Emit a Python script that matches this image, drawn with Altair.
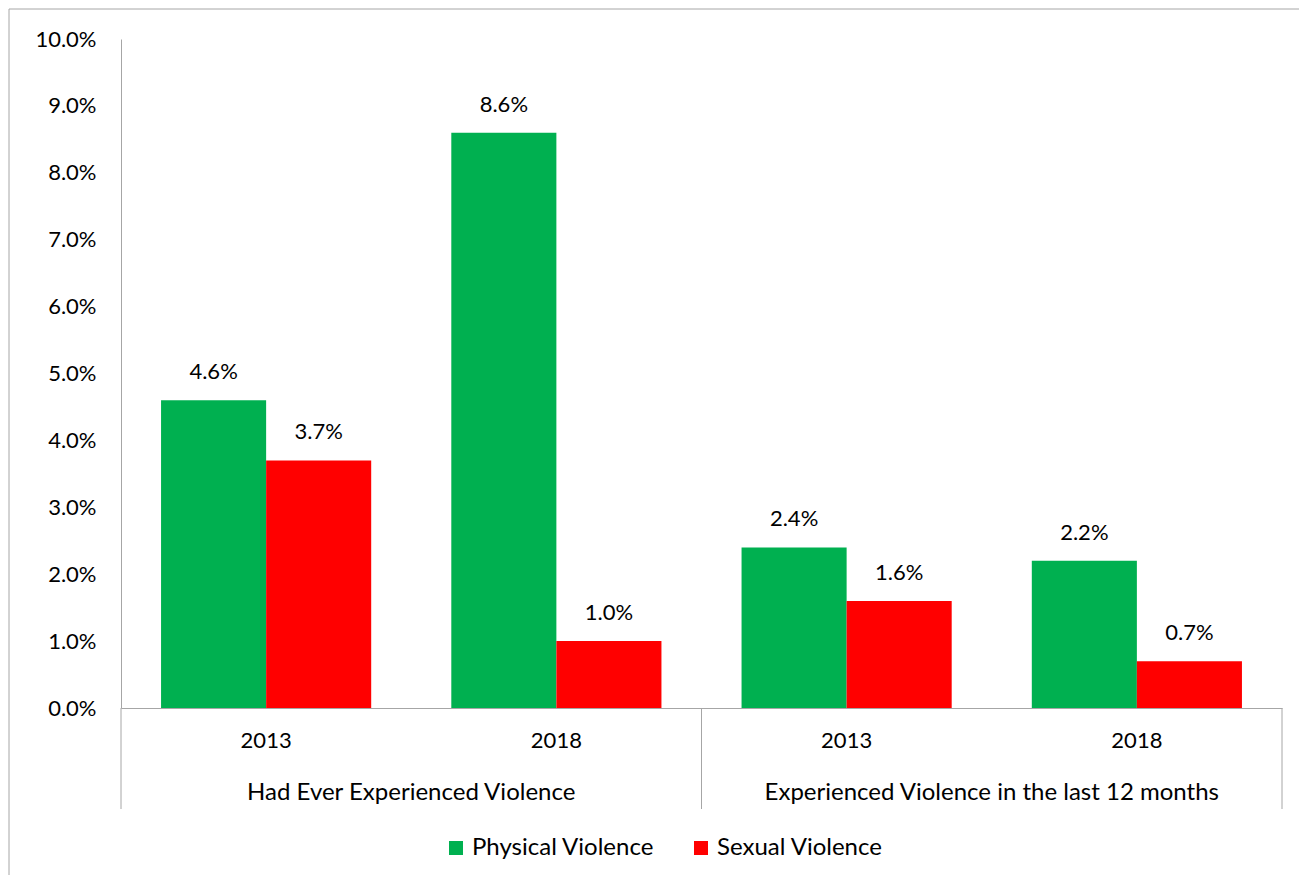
import altair as alt
import pandas as pd

# ---- data ----
groups = ["Had Ever Experienced Violence", "Had Ever Experienced Violence",
          "Experienced Violence in the last 12 months", "Experienced Violence in the last 12 months"]
years = ["2013", "2018", "2013", "2018"]
physical = [4.6, 8.6, 2.4, 2.2]
sexual = [3.7, 1.0, 1.6, 0.7]
series = ["Physical Violence", "Sexual Violence"]
colors = ["#00B050", "#FF0000"]
y_ticks = [0.0, 0.01, 0.02, 0.03, 0.04, 0.05, 0.06, 0.07, 0.08, 0.09, 0.10]

keys = [g + "|" + y for g, y in zip(groups, years)]
rows = []
for k, g, y, p, s in zip(keys, groups, years, physical, sexual):
    rows.append(dict(key=k, group=g, year=y, series=series[0], value=p / 100))
    rows.append(dict(key=k, group=g, year=y, series=series[1], value=s / 100))
df = pd.DataFrame(rows)

grp_df = pd.DataFrame({"key": [keys[0], keys[2]], "group": [groups[0], groups[2]]})
left_sep = pd.DataFrame({"key": [keys[0], keys[2]]})
right_sep = pd.DataFrame({"key": [keys[3]]})
one = pd.DataFrame({"a": [0]})

W, H = 1161, 669
FONT = "Lato"
FS = 22
FS_WORDS = 24
GRAY = "#A6A6A6"
HALF_STEP = W / 8

xscale = alt.Scale(domain=keys, paddingInner=0.276, paddingOuter=0.138)
x = alt.X("key:N", scale=xscale, title=None,
          axis=alt.Axis(labelExpr="split(datum.label, '|')[1]", labelAngle=0, ticks=False,
                        domainColor=GRAY, domainWidth=1, labelFontSize=FS, labelPadding=22,
                        labelFont=FONT, labelColor="black"))
xoff = alt.XOffset("series:N", scale=alt.Scale(domain=series, paddingInner=0, paddingOuter=0))
y = alt.Y("value:Q", scale=alt.Scale(domain=[0, 0.1]), title=None,
          axis=alt.Axis(format=".1%", values=y_ticks, grid=False, ticks=False,
                        domainColor=GRAY, domainWidth=1, labelFontSize=FS, labelPadding=25,
                        labelFont=FONT, labelColor="black"))

bars = alt.Chart(df).mark_bar().encode(
    x=x, xOffset=xoff, y=y,
    color=alt.Color("series:N", scale=alt.Scale(domain=series, range=colors),
                    legend=alt.Legend(title=None, orient="none", legendX=323, legendY=797,
                                      direction="horizontal", symbolType="square", symbolSize=196,
                                      symbolStrokeWidth=0, labelFontSize=FS_WORDS, labelFont=FONT,
                                      labelColor="black", columnPadding=34, labelOffset=4,
                                      labelLimit=0, padding=0)),
)

labels = alt.Chart(df).mark_text(baseline="alphabetic", dy=-21, fontSize=FS, font=FONT,
                                 color="black").encode(
    x=x, xOffset=xoff, y=y, text=alt.Text("value:Q", format=".1%"))

grp = alt.Chart(grp_df).mark_text(dx=HALF_STEP, baseline="middle", fontSize=FS_WORDS, font=FONT,
                                  color="black").encode(
    x=x, y=alt.value(H + 85), text="group:N")

sep_l = alt.Chart(left_sep).mark_rule(xOffset=-HALF_STEP, color=GRAY).encode(
    x=x, y=alt.value(H), y2=alt.value(H + 101))
sep_r = alt.Chart(right_sep).mark_rule(xOffset=HALF_STEP, color=GRAY).encode(
    x=x, y=alt.value(H), y2=alt.value(H + 101))

frame_l = alt.Chart(one).mark_rule(color=GRAY).encode(
    x=alt.value(-112), y=alt.value(-30), y2=alt.value(836))
frame_t = alt.Chart(one).mark_rule(color=GRAY).encode(
    x=alt.value(-112), x2=alt.value(1178), y=alt.value(-30))

chart = alt.layer(frame_l, frame_t, bars, labels, grp, sep_l, sep_r).properties(
    width=W, height=H, padding=0, background="white"
).configure_view(stroke=None)

chart.save("out.html", embed_options={"renderer": "svg", "actions": False})
